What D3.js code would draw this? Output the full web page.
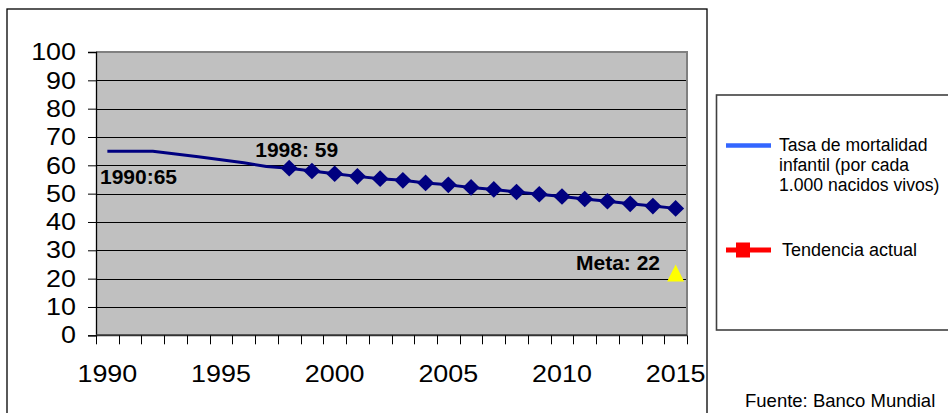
<!DOCTYPE html>
<html>
<head>
<meta charset="utf-8">
<script src="https://cdn.jsdelivr.net/npm/d3@7"></script>
<style>
  html, body { margin: 0; padding: 0; background: #fff; }
  svg { display: block; font-family: Arial, "Liberation Sans", sans-serif; }
</style>
</head>
<body>
<svg id="chart" width="948" height="413"></svg>
<script>
// ---- data ----
const years = ["1990","1991","1992","1993","1994","1995","1996","1997","1998","1999","2000","2001","2002","2003","2004","2005","2006","2007","2008","2009","2010","2011","2012","2013","2014","2015"];
const tasaMortalidad = [65, 65, 65, 64.0, 63.0, 62.0, 60.9, 59.6, 59, 58, 57, 56.1, 55.3, 54.7, 53.8, 53.1, 52.2, 51.5, 50.6, 49.8, 49.0, 48.1, 47.3, 46.4, 45.6, 44.8];
const markerFromYear = "1998";
const metaYear = "2015";
const metaValue = 22;
const yTicks = [0, 10, 20, 30, 40, 50, 60, 70, 80, 90, 100];
const xLabelYears = ["1990", "1995", "2000", "2005", "2010", "2015"];
const annotations = [
  { year: "1990", value: 65, text: "1990:65", dx: -7.4, dy: 33, anchor: "start" },
  { year: "1998", value: 59, text: "1998: 59", dx: -34, dy: -11, anchor: "start" },
  { year: "2015", value: 22, text: "Meta: 22", dx: -15.6, dy: -3, anchor: "end" }
];
const legendItems = ["Tasa de mortalidad|infantil (por cada|1.000 nacidos vivos)", "Tendencia actual"];
const sourceText = "Fuente: Banco Mundial";

// ---- layout ----
const svg = d3.select("#chart");
const plot = { left: 96, right: 687, top: 52, bottom: 335.3 };
const x = d3.scaleBand().domain(years).range([plot.left, plot.right]).padding(0);
const y = d3.scaleLinear().domain([0, 100]).range([plot.bottom, plot.top]);
const cx = d => x(d) + x.bandwidth() / 2;

// outer chart frame
svg.append("rect").attr("x", 7).attr("y", 9).attr("width", 700).attr("height", 420)
  .attr("fill", "#fff").attr("stroke", "#000").attr("stroke-width", 1.3);

// plot background
svg.append("rect").attr("x", plot.left).attr("y", plot.top)
  .attr("width", plot.right - plot.left).attr("height", plot.bottom - plot.top)
  .attr("fill", "#c0c0c0");

// gridlines
svg.append("g").selectAll("line").data(yTicks.filter(t => t > 0 && t < 100)).join("line")
  .attr("x1", plot.left).attr("x2", plot.right)
  .attr("y1", d => Math.round(y(d)) + 0.5).attr("y2", d => Math.round(y(d)) + 0.5)
  .attr("stroke", "#000").attr("stroke-width", 1);

// plot borders top / right
svg.append("line").attr("x1", plot.left).attr("x2", plot.right + 1)
  .attr("y1", plot.top).attr("y2", plot.top).attr("stroke", "#808080").attr("stroke-width", 2);
svg.append("line").attr("x1", plot.right).attr("x2", plot.right)
  .attr("y1", plot.top).attr("y2", plot.bottom).attr("stroke", "#808080").attr("stroke-width", 2);

const stretch = 1.12;
function stretchText(sel, k) {
  sel.each(function() {
    const w = this.getComputedTextLength();
    d3.select(this).attr("textLength", w * k).attr("lengthAdjust", "spacingAndGlyphs");
  });
}

// y axis
const yAxis = svg.append("g").attr("transform", `translate(${plot.left},0)`)
  .call(d3.axisLeft(y).tickValues(yTicks).tickSize(8).tickPadding(12).tickFormat(d3.format("d")));
yAxis.select(".domain").attr("stroke", "#000").attr("stroke-width", 1.3);
yAxis.selectAll(".tick line").attr("stroke", "#000");
yAxis.selectAll(".tick text").attr("font-size", 24).attr("fill", "#000")
  .attr("font-family", "Arial, 'Liberation Sans', sans-serif").call(stretchText, stretch);

// x axis
const xAxisG = svg.append("g");
xAxisG.append("line").attr("x1", plot.left).attr("x2", plot.right)
  .attr("y1", plot.bottom).attr("y2", plot.bottom).attr("stroke", "#333").attr("stroke-width", 2);
const edges = years.map(d => x(d)).concat([x(years[years.length - 1]) + x.bandwidth()]);
xAxisG.selectAll("line.tk").data(edges).join("line").attr("class", "tk")
  .attr("x1", d => Math.round(d) + 0.5).attr("x2", d => Math.round(d) + 0.5)
  .attr("y1", plot.bottom).attr("y2", plot.bottom + 9)
  .attr("stroke", "#000").attr("stroke-width", 1);
xAxisG.selectAll("text").data(xLabelYears).join("text")
  .attr("x", d => cx(d)).attr("y", 381.5)
  .attr("text-anchor", "middle").attr("font-size", 24).attr("fill", "#000")
  .text(d => d).call(stretchText, stretch);

// series line
const line = d3.line().x((d, i) => cx(years[i])).y(d => y(d));
svg.append("path").datum(tasaMortalidad).attr("d", line)
  .attr("fill", "none").attr("stroke", "#000080").attr("stroke-width", 3).attr("stroke-linejoin", "round");

// diamond markers
const startIdx = years.indexOf(markerFromYear);
const markerData = tasaMortalidad.map((v, i) => ({ year: years[i], v })).slice(startIdx);
const hw = 8.5, hh = 8.3;
svg.append("g").selectAll("path").data(markerData).join("path")
  .attr("d", d => {
    const px = cx(d.year), py = y(d.v);
    return `M${px},${py - hh}L${px + hw},${py}L${px},${py + hh}L${px - hw},${py}Z`;
  })
  .attr("fill", "#000080");

// meta triangle
{
  const px = cx(metaYear), py = y(metaValue);
  const tw = 8.5, th = 8.5;
  svg.append("path")
    .attr("d", `M${px},${py - th}L${px + tw},${py + th}L${px - tw},${py + th}Z`)
    .attr("fill", "#ffff00");
}

// annotations
svg.append("g").selectAll("text").data(annotations).join("text")
  .attr("x", d => cx(d.year) + d.dx).attr("y", d => y(d.value) + d.dy)
  .attr("text-anchor", d => d.anchor)
  .attr("font-size", 21).attr("font-weight", "bold").attr("fill", "#000")
  .text(d => d.text);

// legend box
svg.append("rect").attr("x", 716.5).attr("y", 95).attr("width", 260).attr("height", 235)
  .attr("fill", "#fff").attr("stroke", "#404040").attr("stroke-width", 1.6);

// legend item 1
svg.append("line").attr("x1", 726).attr("x2", 771).attr("y1", 145.5).attr("y2", 145.5)
  .attr("stroke", "#3366ff").attr("stroke-width", 4.5);
const lt = svg.append("text").attr("x", 779).attr("y", 151).attr("font-size", 17.6).attr("fill", "#000");
legendItems[0].split("|").forEach((s, i) => {
  lt.append("tspan").attr("x", 779).attr("dy", i === 0 ? 0 : 20).text(s);
});

// legend item 2
svg.append("line").attr("x1", 726).attr("x2", 771).attr("y1", 250).attr("y2", 250)
  .attr("stroke", "#ff0000").attr("stroke-width", 5);
svg.append("rect").attr("x", 736).attr("y", 242.5).attr("width", 14).attr("height", 15).attr("fill", "#ff0000");
svg.append("text").attr("x", 782).attr("y", 255.5).attr("font-size", 18).attr("fill", "#000").text(legendItems[1]);

// source
svg.append("text").attr("x", 745).attr("y", 407).attr("font-size", 18.5).attr("fill", "#000").text(sourceText);
</script>
</body>
</html>
